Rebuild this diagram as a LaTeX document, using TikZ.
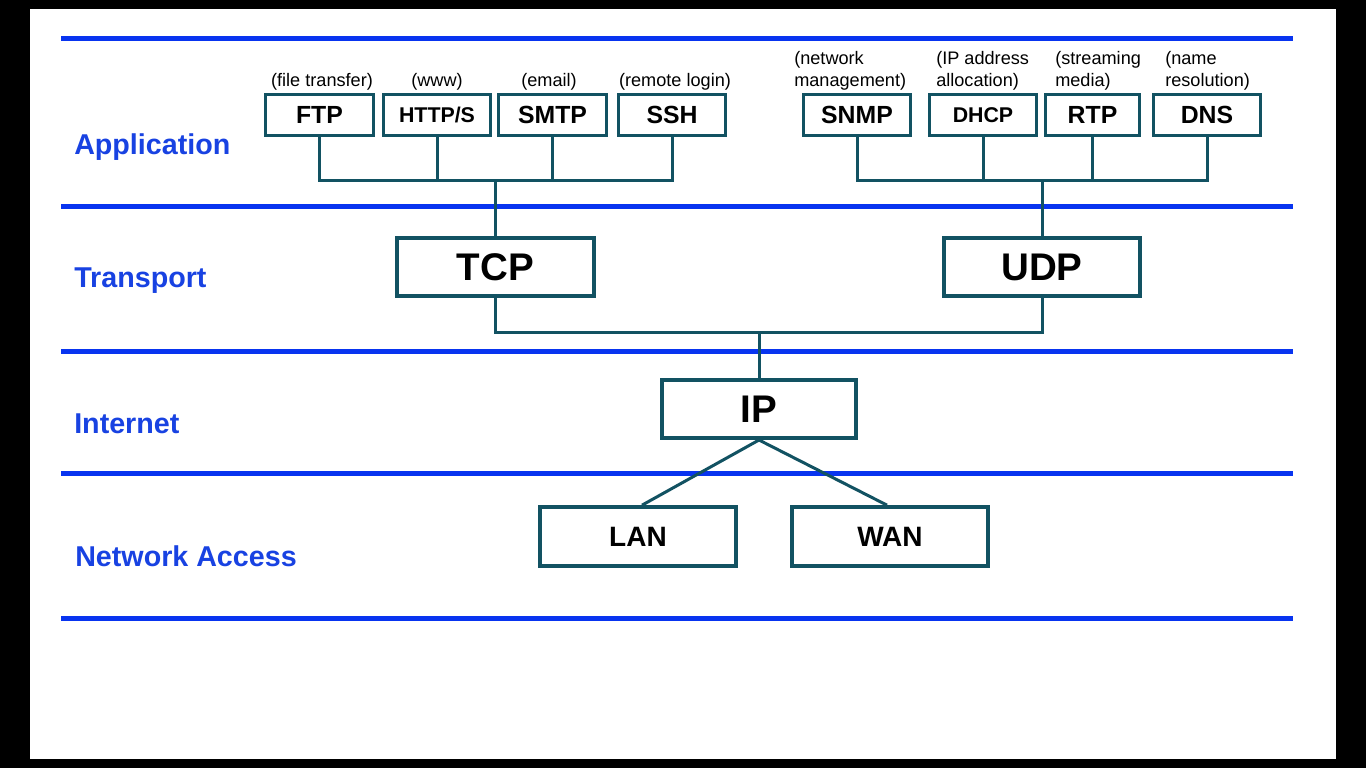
\documentclass[tikz,border=0pt]{standalone}
\usepackage{fontspec}
\setmainfont{Liberation Sans}
\definecolor{lineblue}{RGB}{8,52,240}
\definecolor{labelblue}{RGB}{24,66,226}
\definecolor{boxteal}{RGB}{18,82,98}
\tikzset{
  layerline/.style={draw=lineblue, line width=3.75pt},
  layerlabel/.style={text=labelblue, anchor=base west, inner sep=0pt, font=\bfseries\fontsize{21.5}{24}\selectfont},
  smallbox/.style={draw=boxteal, line width=2.25pt, fill=white, minimum height=30.75pt, inner sep=0pt, font=\bfseries\fontsize{18.6}{20}\selectfont},
  bigbox/.style={draw=boxteal, line width=3pt, fill=white, minimum height=43.5pt, inner sep=0pt, font=\bfseries\fontsize{28.9}{30}\selectfont},
  accbox/.style={draw=boxteal, line width=3pt, fill=white, minimum height=44pt, inner sep=0pt, font=\bfseries\fontsize{21}{24}\selectfont},
  note/.style={inner sep=0pt, font=\fontsize{13.6}{16.1}\selectfont},
  conn/.style={draw=boxteal, line width=2.25pt},
}
\begin{document}
\begin{tikzpicture}[x=0.75pt,y=-0.75pt]
\useasboundingbox (0,0) rectangle (1366,768);
\fill[black] (0,0) rectangle (1366,768);
\fill[white] (30,9) rectangle (1336,759);

% layer lines
\foreach \yy in {38,206,351,473,618}
  \draw[layerline] (61,\yy) -- (1293,\yy);

% layer labels
\node[layerlabel] (lApp) at (74,154) {Application};
\node[layerlabel] (lTra) at (74,287) {Transport};
\node[layerlabel] (lInt) at (74,433) {Internet};
\node[layerlabel] (lNet) at (75,566) {Network Access};

% application boxes
\node[smallbox, minimum width=81pt] (FTP) at (319.5,115) {FTP};
\node[smallbox, minimum width=80.25pt, font=\bfseries\fontsize{16}{18}\selectfont] (HTTP) at (437,115) {HTTP/S};
\node[smallbox, minimum width=81pt] (SMTP) at (552.5,115) {SMTP};
\node[smallbox, minimum width=80.25pt] (SSH) at (672,115) {SSH};
\node[smallbox, minimum width=80.25pt] (SNMP) at (857,115) {SNMP};
\node[smallbox, minimum width=80.25pt, font=\bfseries\fontsize{16}{18}\selectfont] (DHCP) at (983,115) {DHCP};
\node[smallbox, minimum width=70.5pt] (RTP) at (1092.5,115) {RTP};
\node[smallbox, minimum width=80.25pt] (DNS) at (1207,115) {DNS};

% notes
\node[note, anchor=base] (nFTP) at (322,86) {(file transfer)};
\node[note, anchor=base] (nHTTP) at (437,86) {(www)};
\node[note, anchor=base] (nSMTP) at (549,86) {(email)};
\node[note, anchor=base] (nSSH) at (675,86) {(remote login)};
\node[note, anchor=base west, align=left] (nSNMP) at (794,86) {(network\\management)};
\node[note, anchor=base west, align=left] (nDHCP) at (936,86) {(IP address\\allocation)};
\node[note, anchor=base west, align=left] (nRTP) at (1055,86) {(streaming\\media)};
\node[note, anchor=base west, align=left] (nDNS) at (1165,86) {(name\\resolution)};

% transport, internet, access boxes
\node[bigbox, minimum width=147.75pt] (TCP) at (495.5,267) {TCP};
\node[bigbox, minimum width=147pt] (UDP) at (1042,267) {UDP};
\node[bigbox, minimum width=145.5pt] (IP) at (759,409) {IP};
\node[accbox, minimum width=147pt] (LAN) at (638,536.5) {LAN};
\node[accbox, minimum width=147pt] (WAN) at (890,536.5) {WAN};

% application connectors
\coordinate (busL) at (TCP.north |- 0,180);
\draw[conn] (FTP.south) -- (FTP.south |- busL) -- (SSH.south |- busL) -- (SSH.south);
\draw[conn] (HTTP.south) -- (HTTP.south |- busL);
\draw[conn] (SMTP.south) -- (SMTP.south |- busL);
\draw[conn] (busL) -- (TCP.north);

\coordinate (busR) at (UDP.north |- 0,180);
\draw[conn] (SNMP.south) -- (SNMP.south |- busR) -- (DNS.south |- busR) -- (DNS.south);
\draw[conn] (DHCP.south) -- (DHCP.south |- busR);
\draw[conn] (RTP.south) -- (RTP.south |- busR);
\draw[conn] (busR) -- (UDP.north);

% transport connectors
\coordinate (tbus) at (IP.north |- 0,332);
\draw[conn] (TCP.south) |- (tbus) -| (UDP.south);
\draw[conn] (tbus) -- (IP.north);

% internet connectors
\draw[conn] (IP.south) -- ([xshift=3pt]LAN.north);
\draw[conn] (IP.south) -- ([xshift=-2.25pt]WAN.north);
\end{tikzpicture}
\end{document}
